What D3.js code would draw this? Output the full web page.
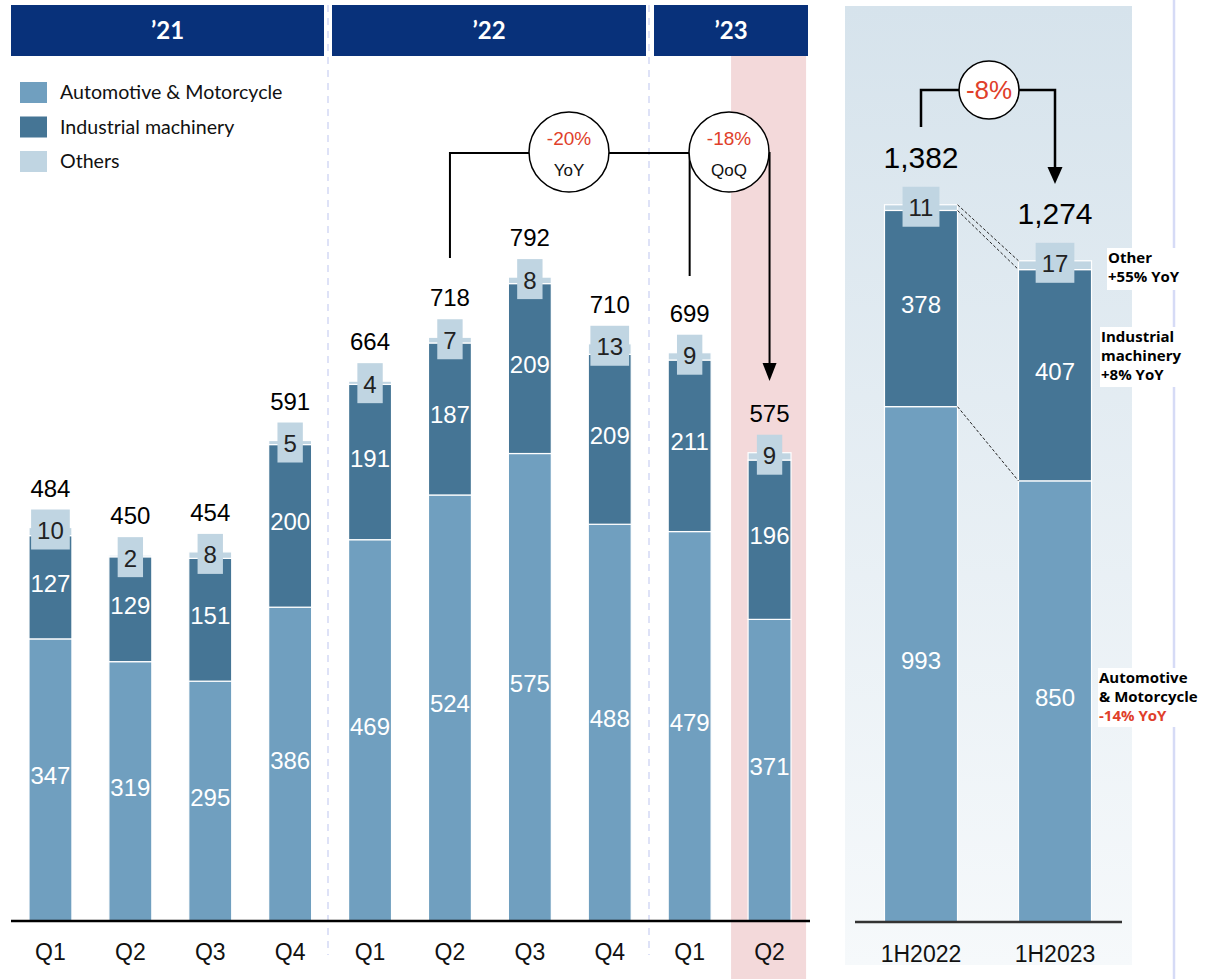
<!DOCTYPE html>
<html>
<head>
  <script src="https://d3js.org/d3.v7.min.js"></script>
  <style>
    body { margin: 0; background: #fff; }
  </style>
</head>
<body>
  <svg id="chart" width="1207" height="979"></svg>
  <script>
    // quarterly data
    const quarters = ['Q1', 'Q2', 'Q3', 'Q4', 'Q1', 'Q2', 'Q3', 'Q4', 'Q1', 'Q2'];
    const autoMoto = [347, 319, 295, 386, 469, 524, 575, 488, 479, 371];
    const industrial = [127, 129, 151, 200, 191, 187, 209, 209, 211, 196];
    const others = [10, 2, 8, 5, 4, 7, 8, 13, 9, 9];
    const totals = [484, 450, 454, 591, 664, 718, 792, 710, 699, 575];
    const years = ['’21', '’22', '’23'];

    // half-year data
    const halves = ['1H2022', '1H2023'];
    const halfAuto = [993, 850];
    const halfIndustrial = [378, 407];
    const halfOthers = [11, 17];
    const halfTotals = ['1,382', '1,274'];

    const cAuto = '#709fbf', cInd = '#457595', cOth = '#c0d5e2';
    const numFont = '"Liberation Sans", Arial, sans-serif';

    const svg = d3.select('svg#chart');
    const defs = svg.append('defs');
    const grad = defs.append('linearGradient').attr('id', 'panel').attr('x1', 0).attr('y1', 0).attr('x2', 0).attr('y2', 1);
    grad.append('stop').attr('offset', '0%').attr('stop-color', '#d6e3ec');
    grad.append('stop').attr('offset', '100%').attr('stop-color', '#f6f9fb');

    // scales
    const x = d3.scaleBand().domain(d3.range(quarters.length)).range([10, 810]).paddingInner(0.4625).paddingOuter(0.2375);
    const y = d3.scaleLinear().domain([0, 1000]).range([921, 108]);
    const xR = d3.scaleBand().domain(halves).range([854, 1122]).paddingInner(0.455).paddingOuter(0.2275);
    const yR = d3.scaleLinear().domain([0, 1000]).range([922, 403]);

    // backgrounds
    svg.append('rect').attr('x', 845).attr('y', 6).attr('width', 287).attr('height', 959).attr('fill', 'url(#panel)');
    svg.append('line').attr('x1', 1174).attr('x2', 1174).attr('y1', 0).attr('y2', 979)
      .attr('stroke', '#d6dbf6').attr('stroke-width', 2.5);
    svg.append('rect').attr('x', x(9) - 17).attr('y', 56).attr('width', 75).attr('height', 923).attr('fill', '#f3d9da');

    // year separators
    [328, 649].forEach(sx => {
      svg.append('line').attr('x1', sx).attr('x2', sx).attr('y1', 5).attr('y2', 955)
        .attr('stroke', '#d3d9f5').attr('stroke-width', 1.5).attr('stroke-dasharray', '7,6');
    });

    // year headers
    const headerEdges = [[11, 324], [332, 646], [654, 808]];
    years.forEach((lab, i) => {
      const [x0, x1] = headerEdges[i];
      svg.append('rect').attr('x', x0).attr('y', 5).attr('width', x1 - x0).attr('height', 51).attr('fill', '#08317a');
      svg.append('text').attr('x', (x0 + x1) / 2).attr('y', 39).attr('text-anchor', 'middle')
        .attr('fill', '#fff').style('font', 'bold 24px Lato, "Open Sans", sans-serif').text(lab);
    });

    // legend
    const legendItems = [['Automotive & Motorcycle', cAuto], ['Industrial machinery', cInd], ['Others', cOth]];
    const legend = svg.append('g').attr('transform', 'translate(20,82)');
    legend.selectAll('g').data(legendItems).join('g')
      .attr('transform', (d, i) => `translate(0,${i * 34.5})`)
      .each(function (d) {
        const g = d3.select(this);
        g.append('rect').attr('width', 27).attr('height', 21).attr('fill', d[1]);
        g.append('text').attr('x', 40).attr('y', 17).attr('fill', '#111')
          .style('font', '19.6px Lato, sans-serif').text(d[0]);
      });

    // stacked bars with labels, shared by both panels
    function drawStack(g, bx, bw, ys, d, totalSize, totalGap) {
      const segs = [[0, d.auto, cAuto], [d.auto, d.auto + d.ind, cInd], [d.auto + d.ind, d.auto + d.ind + d.oth, cOth]];
      segs.forEach(s => {
        g.append('rect').attr('x', bx).attr('width', bw).attr('y', ys(s[1])).attr('height', ys(s[0]) - ys(s[1]))
          .attr('fill', s[2]).attr('stroke', '#fff').attr('stroke-width', 1.2);
      });
      const cx = bx + bw / 2;
      g.append('text').attr('x', cx).attr('y', (ys(0) + ys(d.auto)) / 2 + 4.5).attr('text-anchor', 'middle')
        .attr('fill', '#fff').style('font', `24px ${numFont}`).text(d.auto);
      g.append('text').attr('x', cx).attr('y', (ys(d.auto) + ys(d.auto + d.ind)) / 2 + 4.5).attr('text-anchor', 'middle')
        .attr('fill', '#fff').style('font', `24px ${numFont}`).text(d.ind);
      const top = ys(d.auto + d.ind + d.oth);
      const ot = g.append('text').attr('x', cx).attr('y', top + 11.5).attr('text-anchor', 'middle')
        .attr('fill', '#222').style('font', `24px ${numFont}`).text(d.oth);
      const tw = ot.node().getComputedTextLength();
      g.insert('rect', () => ot.node()).attr('x', cx - tw / 2 - 6).attr('width', tw + 12)
        .attr('y', top - 18).attr('height', 40).attr('fill', cOth);
      g.append('text').attr('x', cx).attr('y', top - totalGap).attr('text-anchor', 'middle')
        .attr('fill', '#000').style('font', `${totalSize}px ${numFont}`).text(d.total);
    }

    const bars = svg.append('g');
    quarters.forEach((q, i) => {
      drawStack(bars, x(i), x.bandwidth(), y,
        { auto: autoMoto[i], ind: industrial[i], oth: others[i], total: totals[i] }, 24, 31);
    });

    // left axis
    svg.append('line').attr('x1', 11).attr('x2', 810).attr('y1', 921).attr('y2', 921).attr('stroke', '#000').attr('stroke-width', 2.5);
    svg.append('g').selectAll('text').data(quarters).join('text')
      .attr('x', (d, i) => x(i) + x.bandwidth() / 2).attr('y', 960).attr('text-anchor', 'middle')
      .style('font', `23px ${numFont}`).attr('fill', '#111').text(d => d);

    // half-year bars
    const hb = svg.append('g');
    halves.forEach((h, i) => {
      drawStack(hb, xR(h), xR.bandwidth(), yR,
        { auto: halfAuto[i], ind: halfIndustrial[i], oth: halfOthers[i], total: halfTotals[i] }, 30, 37);
    });

    // dashed connectors between half-year bars
    const c0 = xR(halves[0]) + xR.bandwidth(), c1 = xR(halves[1]);
    const levels = [
      [halfAuto[0] + halfIndustrial[0] + halfOthers[0], halfAuto[1] + halfIndustrial[1] + halfOthers[1]],
      [halfAuto[0] + halfIndustrial[0], halfAuto[1] + halfIndustrial[1]],
      [halfAuto[0], halfAuto[1]]
    ];
    levels.forEach(l => {
      svg.append('line').attr('x1', c0).attr('y1', yR(l[0])).attr('x2', c1).attr('y2', yR(l[1]))
        .attr('stroke', '#222').attr('stroke-width', 1).attr('stroke-dasharray', '3,2');
    });

    svg.append('line').attr('x1', 855).attr('x2', 1122).attr('y1', 922).attr('y2', 922).attr('stroke', '#333').attr('stroke-width', 2.5);
    svg.append('g').selectAll('text').data(halves).join('text')
      .attr('x', d => xR(d) + xR.bandwidth() / 2).attr('y', 962).attr('text-anchor', 'middle')
      .style('font', `23px ${numFont}`).attr('fill', '#111').text(d => d);

    // arrows and growth circles
    function arrowHead(g, ax, tipY, w, h) {
      g.append('path').attr('d', `M${ax - w / 2},${tipY - h} L${ax + w / 2},${tipY - h} L${ax},${tipY} Z`).attr('fill', '#000');
    }
    const ann = svg.append('g');
    const xc = i => x(i) + x.bandwidth() / 2;
    ann.append('path').attr('d', `M${xc(5)},258 V153 H${xc(8)} V276`).attr('fill', 'none').attr('stroke', '#000').attr('stroke-width', 2);
    ann.append('path').attr('d', `M${xc(8) + 40},153 H${xc(9)} V364`).attr('fill', 'none').attr('stroke', '#000').attr('stroke-width', 2);
    arrowHead(ann, xc(9), 381, 14, 18);
    [[569, '-20%', 'YoY'], [729, '-18%', 'QoQ']].forEach(c => {
      ann.append('circle').attr('cx', c[0]).attr('cy', 152).attr('r', 40).attr('fill', '#fff').attr('stroke', '#000').attr('stroke-width', 1.5);
      ann.append('text').attr('x', c[0]).attr('y', 145).attr('text-anchor', 'middle').attr('fill', '#e0402a')
        .style('font', `19px ${numFont}`).text(c[1]);
      ann.append('text').attr('x', c[0]).attr('y', 176).attr('text-anchor', 'middle').attr('fill', '#111')
        .style('font', `17px ${numFont}`).text(c[2]);
    });

    const hc = h => xR(h) + xR.bandwidth() / 2;
    ann.append('path').attr('d', `M${hc(halves[0])},127 V90 H${hc(halves[1])} V170`).attr('fill', 'none').attr('stroke', '#000').attr('stroke-width', 2.5);
    arrowHead(ann, hc(halves[1]), 184, 15, 17);
    ann.append('ellipse').attr('cx', 989).attr('cy', 90).attr('rx', 30).attr('ry', 29).attr('fill', '#fff').attr('stroke', '#000').attr('stroke-width', 1.5);
    ann.append('text').attr('x', 989).attr('y', 99).attr('text-anchor', 'middle').attr('fill', '#e0402a')
      .style('font', `26px ${numFont}`).text('-8%');

    // side notes
    const notes = [
      { x: 1107, y: 248, w: 77, h: 42, lines: [['Other', '#000'], ['+55% YoY', '#000']] },
      { x: 1100, y: 327, w: 83, h: 60, lines: [['Industrial', '#000'], ['machinery', '#000'], ['+8% YoY', '#000']] },
      { x: 1098, y: 668, w: 108, h: 59, lines: [['Automotive', '#000'], ['& Motorcycle', '#000'], ['-14% YoY', '#e0402a']] }
    ];
    notes.forEach(n => {
      ann.append('rect').attr('x', n.x).attr('y', n.y).attr('width', n.w).attr('height', n.h).attr('fill', '#fff');
      n.lines.forEach((l, i) => {
        ann.append('text').attr('x', n.x + 1).attr('y', n.y + 15 + i * 19).attr('fill', l[1])
          .style('font', 'bold 15px "Open Sans", sans-serif').text(l[0]);
      });
    });
  </script>
</body>
</html>
